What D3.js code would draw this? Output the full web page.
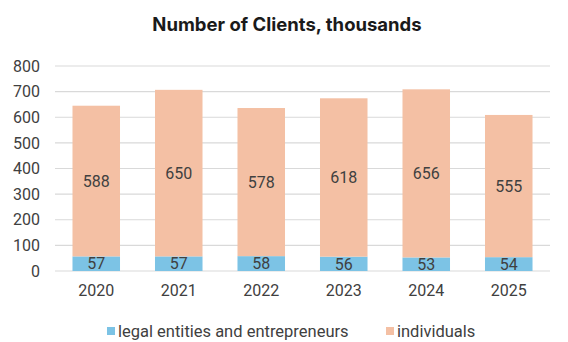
<!DOCTYPE html>
<html>
<head>
<meta charset="utf-8">
<script src="https://cdn.jsdelivr.net/npm/d3@7"></script>
<style>
  html, body { margin: 0; padding: 0; background: #fff; }
  svg { display: block; }
</style>
</head>
<body>
<svg id="chart" width="568" height="342"></svg>
<script>
// Client counts by year, in thousands
const years = ["2020", "2021", "2022", "2023", "2024", "2025"];
const legalEntities = [57, 57, 58, 56, 53, 54];
const individuals = [588, 650, 578, 618, 656, 555];
const yTicks = [0, 100, 200, 300, 400, 500, 600, 700, 800];
const seriesNames = ["legal entities and entrepreneurs", "individuals"];
const seriesColors = ["#7cc3e5", "#f4c0a4"];

const svg = d3.select("#chart");
const W = 568, H = 342;
const margin = { left: 55, right: 18, top: 66, bottom: 71 };
const fontFamily = "Roboto, 'Liberation Sans', sans-serif";
const textColor = "#404040";

const x = d3.scaleBand()
  .domain(years)
  .range([margin.left, W - margin.right])
  .paddingInner(0.424)
  .paddingOuter(0.212);

const y = d3.scaleLinear()
  .domain([0, 800])
  .range([H - margin.bottom, margin.top]);

// Title
svg.append("text")
  .attr("x", 287).attr("y", 31)
  .attr("text-anchor", "middle")
  .attr("font-family", "Inter, Roboto, sans-serif")
  .attr("font-weight", 700)
  .attr("font-size", 18.5)
  .attr("fill", "#1a1a1a")
  .text("Number of Clients, thousands");

// Gridlines
svg.append("g")
  .selectAll("line")
  .data(yTicks)
  .join("line")
  .attr("x1", margin.left).attr("x2", W - margin.right)
  .attr("y1", d => y(d)).attr("y2", d => y(d))
  .attr("stroke", "#d9d9d9")
  .attr("stroke-width", 1.2);

// Y axis labels
const yAxis = d3.axisLeft(y).tickValues(yTicks).tickSize(0).tickPadding(15);
svg.append("g")
  .attr("transform", `translate(${margin.left},0)`)
  .call(yAxis)
  .call(g => g.select(".domain").remove())
  .call(g => g.selectAll("text")
    .attr("font-family", fontFamily)
    .attr("font-size", 16)
    .attr("fill", textColor));

// Stacked bars
const rows = years.map((yr, i) => ({ year: yr, legal: legalEntities[i], indiv: individuals[i] }));
const stack = d3.stack().keys(["legal", "indiv"])(rows);

const layers = svg.append("g")
  .selectAll("g")
  .data(stack)
  .join("g")
  .attr("fill", (d, i) => seriesColors[i]);

layers.selectAll("rect")
  .data(d => d)
  .join("rect")
  .attr("x", d => x(d.data.year))
  .attr("width", x.bandwidth())
  .attr("y", d => y(d[1]))
  .attr("height", d => y(d[0]) - y(d[1]));

// Value labels centred in each segment
layers.selectAll("text")
  .data(d => d.map(p => ({ p, key: d.key })))
  .join("text")
  .attr("x", d => x(d.p.data.year) + x.bandwidth() / 2)
  .attr("y", d => (y(d.p[0]) + y(d.p[1])) / 2)
  .attr("dy", "0.36em")
  .attr("text-anchor", "middle")
  .attr("font-family", fontFamily)
  .attr("font-size", 16)
  .attr("fill", textColor)
  .text(d => d.p.data[d.key]);

// X axis labels
const xAxis = d3.axisBottom(x).tickSize(0).tickPadding(14);
svg.append("g")
  .attr("transform", `translate(0,${y(0)})`)
  .call(xAxis)
  .call(g => g.select(".domain").remove())
  .call(g => g.selectAll("text")
    .attr("font-family", fontFamily)
    .attr("font-size", 16)
    .attr("fill", textColor));

// Legend
const legendItems = [
  { name: seriesNames[0], color: seriesColors[0], x: 107 },
  { name: seriesNames[1], color: seriesColors[1], x: 386 }
];
const legend = svg.append("g").selectAll("g")
  .data(legendItems)
  .join("g")
  .attr("transform", d => `translate(${d.x},327)`);
legend.append("rect")
  .attr("width", 8).attr("height", 8)
  .attr("fill", d => d.color);
legend.append("text")
  .attr("x", 11).attr("y", 10)
  .attr("font-family", fontFamily)
  .attr("font-size", 16.5)
  .attr("fill", textColor)
  .text(d => d.name);
</script>
</body>
</html>
